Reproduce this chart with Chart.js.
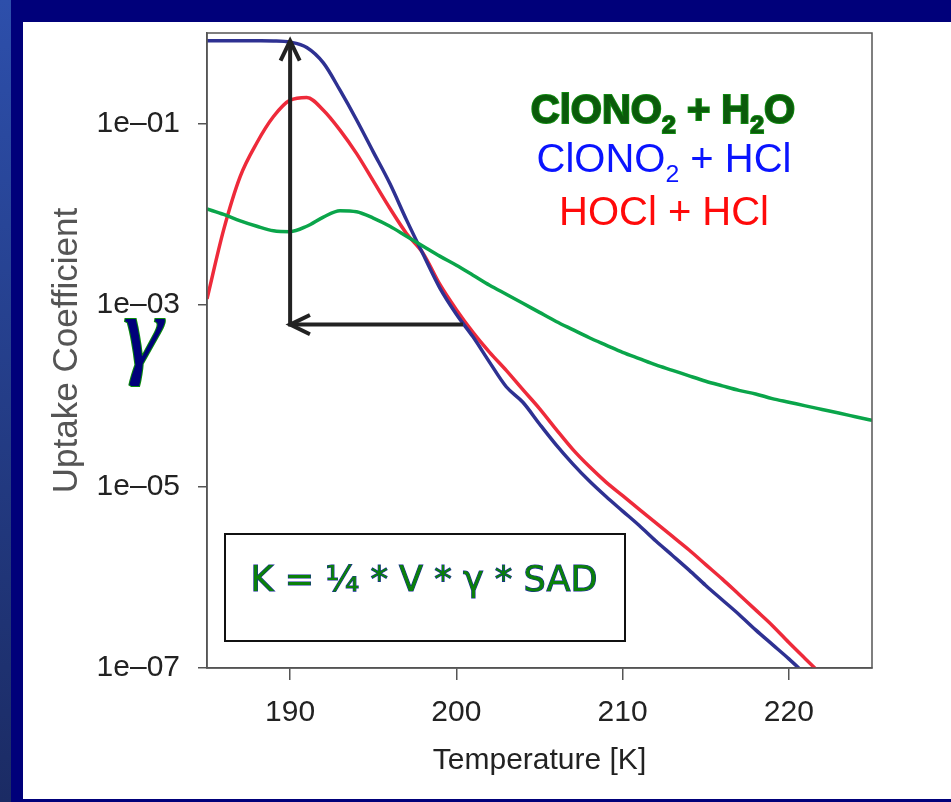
<!DOCTYPE html>
<html>
<head>
<meta charset="utf-8">
<script src="https://cdn.jsdelivr.net/npm/chart.js@4.4.1/dist/chart.umd.min.js"></script>
<style>
  html, body { margin: 0; padding: 0; }
  body { width: 951px; height: 802px; position: relative; overflow: hidden; background: #00007a; }
  #strip { position: absolute; left: 0; top: 0; width: 11px; height: 802px;
           background: linear-gradient(#2d4fab, #1b2b64); }
  #frame { position: absolute; left: 11px; top: 0; right: 0; bottom: 0;
           background: #00007a; border-top-left-radius: 12px; }
  #panel { position: absolute; left: 23px; top: 22px; width: 928px; height: 777px; background: #fff; }
  #chartUptake { display: block; }
</style>
</head>
<body>
<div id="strip"></div>
<div id="frame"></div>
<div id="panel"><canvas id="chartUptake" width="928" height="777"></canvas></div>
<script>
// temperature grid [K]
const temps = [185, 186, 187, 188, 189, 190, 191, 192, 193, 194, 195, 196, 197, 198, 199,
               200, 201, 202, 203, 204, 205, 206, 207, 208, 209, 210, 211, 212, 213, 214,
               215, 216, 217, 218, 219, 220, 221, 222, 223, 224, 225];

// uptake coefficients (gamma) per temperature step
const gammaClono2H2O = [1.15e-2, 1.00e-2, 8.51e-3, 7.41e-3, 6.61e-3, 6.46e-3, 7.41e-3, 9.33e-3, 1.10e-2, 1.07e-2,
                        9.12e-3, 7.41e-3, 5.75e-3, 4.47e-3, 3.47e-3, 2.75e-3, 2.14e-3, 1.66e-3, 1.32e-3, 1.05e-3,
                        8.32e-4, 6.61e-4, 5.37e-4, 4.37e-4, 3.63e-4, 3.02e-4, 2.57e-4, 2.19e-4, 1.91e-4, 1.66e-4,
                        1.45e-4, 1.29e-4, 1.15e-4, 1.05e-4, 9.33e-5, 8.51e-5, 7.76e-5, 7.08e-5, 6.46e-5, 5.89e-5,
                        5.37e-5];
const gammaClono2HCl = [0.822, 0.822, 0.822, 0.820, 0.817, 0.794, 0.692, 0.468, 0.234, 0.110,
                        4.90e-2, 2.19e-2, 8.71e-3, 3.63e-3, 1.55e-3, 7.94e-4, 4.47e-4, 2.34e-4, 1.26e-4, 8.51e-5,
                        4.90e-5, 2.88e-5, 1.78e-5, 1.15e-5, 7.76e-6, 5.37e-6, 3.72e-6, 2.51e-6, 1.74e-6, 1.20e-6,
                        8.13e-7, 5.62e-7, 3.89e-7, 2.63e-7, 1.82e-7, 1.26e-7, 8.5e-8];
const gammaHoclHCl = [1.17e-3, 6.76e-3, 2.63e-2, 6.17e-2, 0.120, 0.182, 0.195, 0.141, 8.51e-2, 4.68e-2,
                      2.34e-2, 1.17e-2, 6.17e-3, 3.72e-3, 1.70e-3, 8.91e-4, 5.01e-4, 3.02e-4, 1.91e-4, 1.17e-4,
                      7.24e-5, 4.27e-5, 2.57e-5, 1.66e-5, 1.12e-5, 7.94e-6, 5.62e-6, 3.98e-6, 2.82e-6, 2.00e-6,
                      1.38e-6, 9.55e-7, 6.46e-7, 4.37e-7, 2.95e-7, 1.91e-7, 1.26e-7, 8.32e-8];

const xTicks = [190, 200, 210, 220];
const yTicks = [1e-7, 1e-5, 1e-3, 1e-1];

// reading arrow: from curve at 200.4 K back to 190 K, then up to the plateau
const arrowT = [200.4, 190, 190];
const arrowGamma = [6.1e-4, 6.1e-4, 0.82];

const sans = "'Liberation Sans', Arial, sans-serif";

function toPoints(values) {
    return values.map((v, i) => ({ x: temps[i], y: v }));
}

function drawHead(ctx, x1, y1, x2, y2) {
    const ang = Math.atan2(y2 - y1, x2 - x1);
    const len = 22, spread = 0.45;
    ctx.beginPath();
    ctx.moveTo(x2 - len * Math.cos(ang - spread), y2 - len * Math.sin(ang - spread));
    ctx.lineTo(x2, y2);
    ctx.lineTo(x2 - len * Math.cos(ang + spread), y2 - len * Math.sin(ang + spread));
    ctx.stroke();
}

// text made of runs, some of them subscripts, centred on cx
function drawRuns(ctx, runs, cx, base, size, weight, fill, stroke) {
    const subSize = size * 0.62;
    let total = 0;
    runs.forEach(r => {
        ctx.font = weight + ' ' + (r.sub ? subSize : size) + 'px ' + sans;
        r.w = ctx.measureText(r.t).width;
        total += r.w;
    });
    let x = cx - total / 2;
    ctx.textAlign = 'left';
    ctx.textBaseline = 'alphabetic';
    runs.forEach(r => {
        ctx.font = weight + ' ' + (r.sub ? subSize : size) + 'px ' + sans;
        const y = base + (r.sub ? size * 0.26 : 0);
        if (stroke) {
            ctx.strokeStyle = stroke;
            ctx.lineWidth = 2;
            ctx.strokeText(r.t, x, y);
        }
        ctx.fillStyle = fill;
        ctx.fillText(r.t, x, y);
        x += r.w;
    });
}

const overlay = {
    id: 'overlay',
    afterDatasetsDraw(chart) {
        const ctx = chart.ctx;
        const area = chart.chartArea;
        const xs = chart.scales.x, ys = chart.scales.y;

        ctx.save();
        // plot frame
        ctx.strokeStyle = '#555';
        ctx.lineWidth = 1.5;
        ctx.strokeRect(area.left, area.top, area.right - area.left, area.bottom - area.top);

        // arrows
        const px = arrowT.map(t => xs.getPixelForValue(t));
        const py = arrowGamma.map(g => ys.getPixelForValue(g));
        ctx.strokeStyle = '#222';
        ctx.lineWidth = 4;
        ctx.lineCap = 'butt';
        ctx.beginPath();
        ctx.moveTo(px[0], py[0]);
        ctx.lineTo(px[1], py[1]);
        ctx.lineTo(px[2], py[2]);
        ctx.stroke();
        drawHead(ctx, px[0], py[0], px[1], py[1]);
        drawHead(ctx, px[1], py[1], px[2], py[2]);

        // formula box
        ctx.strokeStyle = '#111';
        ctx.lineWidth = 2;
        ctx.strokeRect(202, 512, 400, 107);
        ctx.font = "36px 'DejaVu Sans', sans-serif";
        ctx.textAlign = 'center';
        ctx.textBaseline = 'alphabetic';
        ctx.lineWidth = 1.2;
        ctx.strokeStyle = '#1a2a9a';
        ctx.strokeText('K = \u00BC * V * \u03B3 * SAD', 401, 569, 347);
        ctx.fillStyle = '#0a800a';
        ctx.fillText('K = \u00BC * V * \u03B3 * SAD', 401, 569, 347);

        // reaction labels
        drawRuns(ctx, [{ t: 'ClONO' }, { t: '2', sub: true }, { t: ' + H' }, { t: '2', sub: true }, { t: 'O' }],
            640, 101, 40, 'bold', '#0b5a0b', '#118a11');
        drawRuns(ctx, [{ t: 'ClONO' }, { t: '2', sub: true }, { t: ' + HCl' }],
            641, 150, 40, 'normal', '#0a14ff', null);
        drawRuns(ctx, [{ t: 'HOCl + HCl' }], 641, 203, 40, 'normal', '#ff0a0a', null);

        // gamma symbol next to the axis title
        ctx.font = "italic 100px 'Liberation Serif', serif";
        ctx.textAlign = 'center';
        ctx.lineWidth = 2;
        ctx.strokeStyle = '#0a8a0a';
        ctx.strokeText('\u03B3', 120, 343);
        ctx.fillStyle = '#00007a';
        ctx.fillText('\u03B3', 120, 343);
        ctx.restore();
    }
};

const ctx = document.getElementById('chartUptake').getContext('2d');

const lineChart = new Chart(ctx, {
    type: 'line',
    data: {
        datasets: [{
            label: 'ClONO2 + H2O',
            data: toPoints(gammaClono2H2O),
            borderColor: '#0aa54a',
            borderWidth: 3.5
        }, {
            label: 'ClONO2 + HCl',
            data: toPoints(gammaClono2HCl),
            borderColor: '#2e3192',
            borderWidth: 3.5
        }, {
            label: 'HOCl + HCl',
            data: toPoints(gammaHoclHCl),
            borderColor: '#ee2a3a',
            borderWidth: 3.5
        }]
    },
    options: {
        responsive: false,
        animation: false,
        elements: {
            point: { radius: 0 },
            line: { cubicInterpolationMode: 'monotone', fill: false }
        },
        layout: { padding: { top: 11, right: 79, left: 0, bottom: 0 } },
        plugins: {
            legend: { display: false },
            tooltip: { enabled: false }
        },
        scales: {
            x: {
                type: 'linear',
                min: 185,
                max: 225,
                afterBuildTicks: s => { s.ticks = xTicks.map(v => ({ value: v })); },
                afterFit: s => { s.height = 131; s.paddingLeft = 0; s.paddingRight = 0; },
                grid: { drawOnChartArea: false, tickLength: 12, color: '#555', lineWidth: 1.5 },
                border: { color: '#555', width: 1.5 },
                ticks: { font: { family: sans, size: 30 }, color: '#222', padding: 15, maxRotation: 0 },
                title: {
                    display: true,
                    text: 'Temperature [K]',
                    font: { family: sans, size: 30 },
                    color: '#222',
                    padding: { top: 0, bottom: 20 }
                }
            },
            y: {
                type: 'logarithmic',
                min: 1e-7,
                max: 1,
                afterBuildTicks: s => { s.ticks = yTicks.map(v => ({ value: v })); },
                afterFit: s => { s.width = 184; s.paddingTop = 0; s.paddingBottom = 0; },
                grid: { drawOnChartArea: false, tickLength: 9, color: '#555', lineWidth: 1.5 },
                border: { color: '#555', width: 1.5 },
                ticks: {
                    font: { family: sans, size: 30 },
                    color: '#222',
                    padding: 18,
                    callback: v => '1e\u2013' + String(Math.round(-Math.log10(v))).padStart(2, '0')
                },
                title: {
                    display: true,
                    text: 'Uptake Coefficient',
                    font: { family: sans, size: 35 },
                    color: '#555',
                    padding: { top: 23, bottom: 0 }
                }
            }
        }
    },
    plugins: [overlay]
});
</script>
</body>
</html>
